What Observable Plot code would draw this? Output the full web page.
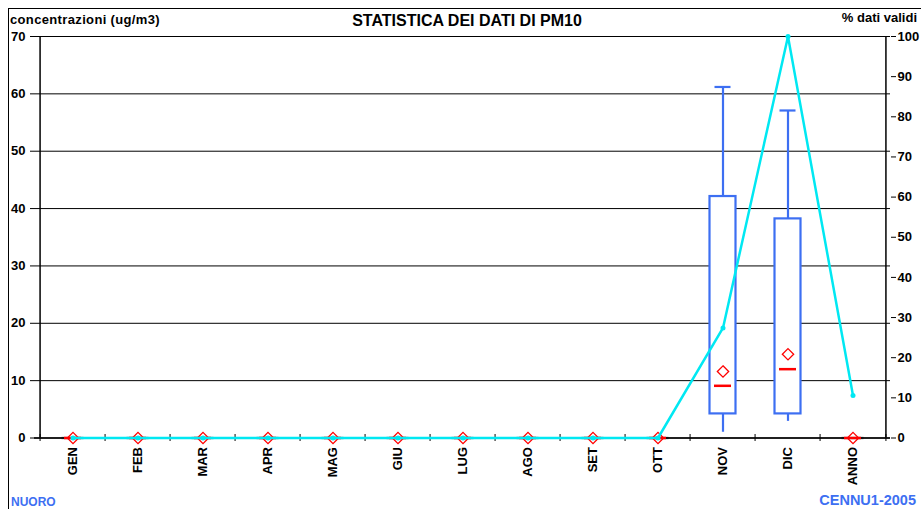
<!DOCTYPE html>
<html><head><meta charset="utf-8">
<script src="https://cdn.jsdelivr.net/npm/d3@7"></script>
<script src="https://cdn.jsdelivr.net/npm/@observablehq/plot@0.6"></script>
<style>
body{margin:0;background:#fff;font-family:"Liberation Sans",Arial,sans-serif;}
#wrap{position:relative;width:921px;height:509px;overflow:hidden;background:#fff}
#chart{position:absolute;left:0;top:0}
#frame{position:absolute;left:8px;top:8px;width:940px;height:540px;border-left:1.5px solid #000;border-top:1.5px solid #000;pointer-events:none}
.t{position:absolute;font-weight:bold;white-space:nowrap;line-height:1;font-family:"Liberation Sans",Arial,sans-serif}
</style></head><body>
<div id="wrap">
<div id="chart"></div>
<div id="frame"></div>
<div class="t" style="left:10px;top:13px;font-size:13px;letter-spacing:0.35px">concentrazioni (ug/m3)</div>
<div class="t" style="left:0;width:934px;text-align:center;top:13px;font-size:16px">STATISTICA DEI DATI DI PM10</div>
<div class="t" style="right:4px;top:11px;font-size:13px">% dati validi</div>
<div class="t" style="left:11px;top:496px;font-size:12px;color:#3d6ff2">NUORO</div>
<div class="t" style="right:5px;top:493px;font-size:14.5px;color:#3d6ff2">CENNU1-2005</div>
</div>
<script>
// ---- data ----
const categories = ["GEN","FEB","MAR","APR","MAG","GIU","LUG","AGO","SET","OTT","NOV","DIC","ANNO"];
const minV    = [0,0,0,0,0,0,0,0,0,0, 1.0, 2.9, 0];
const q1V     = [0,0,0,0,0,0,0,0,0,0, 4.2, 4.2, 0];
const medianV = [0,0,0,0,0,0,0,0,0,0, 9.1, 12.0, 0];
const meanV   = [0,0,0,0,0,0,0,0,0,0, 11.6, 14.6, 0];
const q3V     = [0,0,0,0,0,0,0,0,0,0, 42.1, 38.2, 0];
const maxV    = [0,0,0,0,0,0,0,0,0,0, 61.2, 57.1, 0];
const pctValid = [0,0,0,0,0,0,0,0,0,0, 27.4, 100, 10.6];
const leftTicks = [0,10,20,30,40,50,60,70];
const rightTicks = [0,10,20,30,40,50,60,70,80,90,100];

// ---- build ----
const W = 921, H = 509, mL = 34, mR = 31, mT = 36, mB = 71.5;
const K = 70 / 100; // % axis -> concentration axis
const bw = (W - mL - mR) / categories.length;
const frameH = H - mT - mB;
const blue = "#3d6ff2", cyan = "#00e8f2";
const rows = categories.map((c, i) => ({cat: c, min: minV[i], q1: q1V[i], med: medianV[i], mean: meanV[i], q3: q3V[i], max: maxV[i], pct: pctValid[i]}));
const boxRows = rows.filter(d => d.max > 0);
const zeroRows = rows.filter(d => d.max === 0);
const first = categories[0], last = categories[categories.length - 1];

const chart = Plot.plot({
  width: W, height: H,
  marginLeft: mL, marginRight: mR, marginTop: mT, marginBottom: mB,
  style: {fontFamily: "'Liberation Sans', Arial, sans-serif", fontWeight: "bold", fontSize: "13px", color: "#000", background: "transparent", overflow: "visible"},
  x: {type: "band", domain: categories, padding: 0, label: null},
  y: {domain: [0, 70], label: null},
  marks: [
    Plot.gridY(leftTicks, {stroke: "#000", strokeOpacity: 1, strokeWidth: 1}),
    Plot.axisY(leftTicks, {anchor: "left", tickSize: 4, tickPadding: 5, label: null, fontSize: 13, fontWeight: "bold"}),
    Plot.axisY(rightTicks.map(d => d * K), {anchor: "right", tickSize: 5, tickPadding: 2, label: null, tickFormat: d => Math.round(d / K), fontSize: 13, fontWeight: "bold"}),
    Plot.axisX({anchor: "bottom", tickSize: 0, tickPadding: 9, tickRotate: -90, label: null, fontSize: 13, fontWeight: "bold"}),
    Plot.ruleX([first], {dx: -bw / 2, stroke: "#000", strokeWidth: 1.5}),
    Plot.ruleX([last], {dx: bw / 2, stroke: "#000", strokeWidth: 1.5}),
    Plot.ruleY([0], {stroke: "#000", strokeWidth: 1.5}),
    Plot.ruleX(categories, {dx: -bw / 2, insetTop: frameH - 3.5, insetBottom: -3.5, stroke: "#000"}),
    Plot.ruleX([last], {dx: bw / 2, insetTop: frameH - 3.5, insetBottom: -3.5, stroke: "#000"}),
    // whiskers
    Plot.ruleX(boxRows, {x: "cat", y1: "q3", y2: "max", stroke: blue, strokeWidth: 2.2}),
    Plot.ruleX(boxRows, {x: "cat", y1: "min", y2: "q1", stroke: blue, strokeWidth: 2.2}),
    Plot.tickY(boxRows, {x: "cat", y: "max", stroke: blue, strokeWidth: 2.2, insetLeft: 24.5, insetRight: 24.5}),
    // boxes
    Plot.barY(boxRows, {x: "cat", y1: "q1", y2: "q3", fill: "white", stroke: blue, strokeWidth: 2.2, insetLeft: 19.5, insetRight: 19.5}),
    Plot.tickY(zeroRows, {x: "cat", y: "q3", stroke: "#111", strokeWidth: 2.2, insetLeft: 21.5, insetRight: 21.5}),
    // median
    Plot.tickY(rows, {x: "cat", y: "med", stroke: "#ff0000", strokeWidth: 2.5, insetLeft: 24, insetRight: 24}),
    // mean
    Plot.dot(rows, {x: "cat", y: "mean", symbol: "diamond2", r: 5.1, stroke: "#ff0000", fill: "none", strokeWidth: 1.3}),
    // % valid data
    Plot.line(rows, {x: "cat", y: d => d.pct * K, stroke: cyan, strokeWidth: 2.5}),
    Plot.dot(rows, {x: "cat", y: d => d.pct * K, r: 2.5, fill: cyan, stroke: "none"})
  ]
});
document.getElementById("chart").appendChild(chart);
</script>
</body></html>
